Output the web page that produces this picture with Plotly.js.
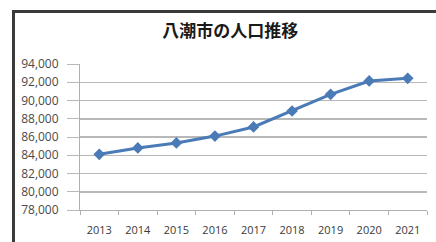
<!DOCTYPE html>
<html><head><meta charset="utf-8">
<script src="https://cdn.plot.ly/plotly-3.0.1.min.js"></script>
<style>
html,body{margin:0;padding:0;background:#fff;}
#wrap{position:relative;width:436px;height:242px;overflow:hidden;}
#frame{position:absolute;left:12px;top:10px;width:430px;height:240px;border-left:3px solid #3a3a3a;border-top:3px solid #3a3a3a;pointer-events:none;}
#chart{position:absolute;left:0;top:0;width:436px;height:242px;}
</style></head>
<body><div id="wrap"><div id="chart"></div><div id="frame"></div></div>
<script>
const years = ["2013","2014","2015","2016","2017","2018","2019","2020","2021"];
const population = [84100, 84800, 85350, 86100, 87100, 88850, 90680, 92140, 92430];
const yTicks = [78000, 80000, 82000, 84000, 86000, 88000, 90000, 92000, 94000];
const yTickLabels = ["78,000","80,000","82,000","84,000","86,000","88,000","90,000","92,000","94,000"];
const titleText = "八潮市の人口推移";

Plotly.newPlot("chart", [{
  x: years, y: population, type: "scatter", mode: "lines+markers",
  line: {color: "#4a7bb7", width: 3},
  marker: {symbol: "diamond", size: 9, color: "#4a7bb7"},
  hoverinfo: "skip"
}], {
  width: 436, height: 242,
  margin: {l: 80, r: 9, t: 64, b: 32, pad: 0},
  paper_bgcolor: "#fff", plot_bgcolor: "#fff",
  showlegend: false,
  title: {text: "<b>" + titleText + "</b>", x: 0.528, xanchor: "center", y: 0.872, yanchor: "middle",
    font: {family: "Noto Sans CJK JP", size: 17, color: "#1a1a1a"}},
  xaxis: {type: "category", range: [-0.5, 8.5], showgrid: false, showline: true, linecolor: "#b0b0b0", linewidth: 1,
    ticks: "outside", tickson: "boundaries", ticklen: 4, tickcolor: "#b0b0b0", ticklabelstandoff: 10,
    tickfont: {family: "Open Sans", size: 11, color: "#3a3a3a"}, zeroline: false, fixedrange: true},
  yaxis: {range: [78000, 94000], tickvals: yTicks, ticktext: yTickLabels, showgrid: true, gridcolor: "#b8b8b8", gridwidth: 1.5,
    showline: true, linecolor: "#b0b0b0", linewidth: 1, ticks: "outside", ticklen: 12, tickcolor: "#b8b8b8", ticklabelstandoff: 6,
    tickfont: {family: "Open Sans", size: 12, color: "#4a4a4a"}, zeroline: false, fixedrange: true}
}, {staticPlot: true, displayModeBar: false});
</script></body></html>
